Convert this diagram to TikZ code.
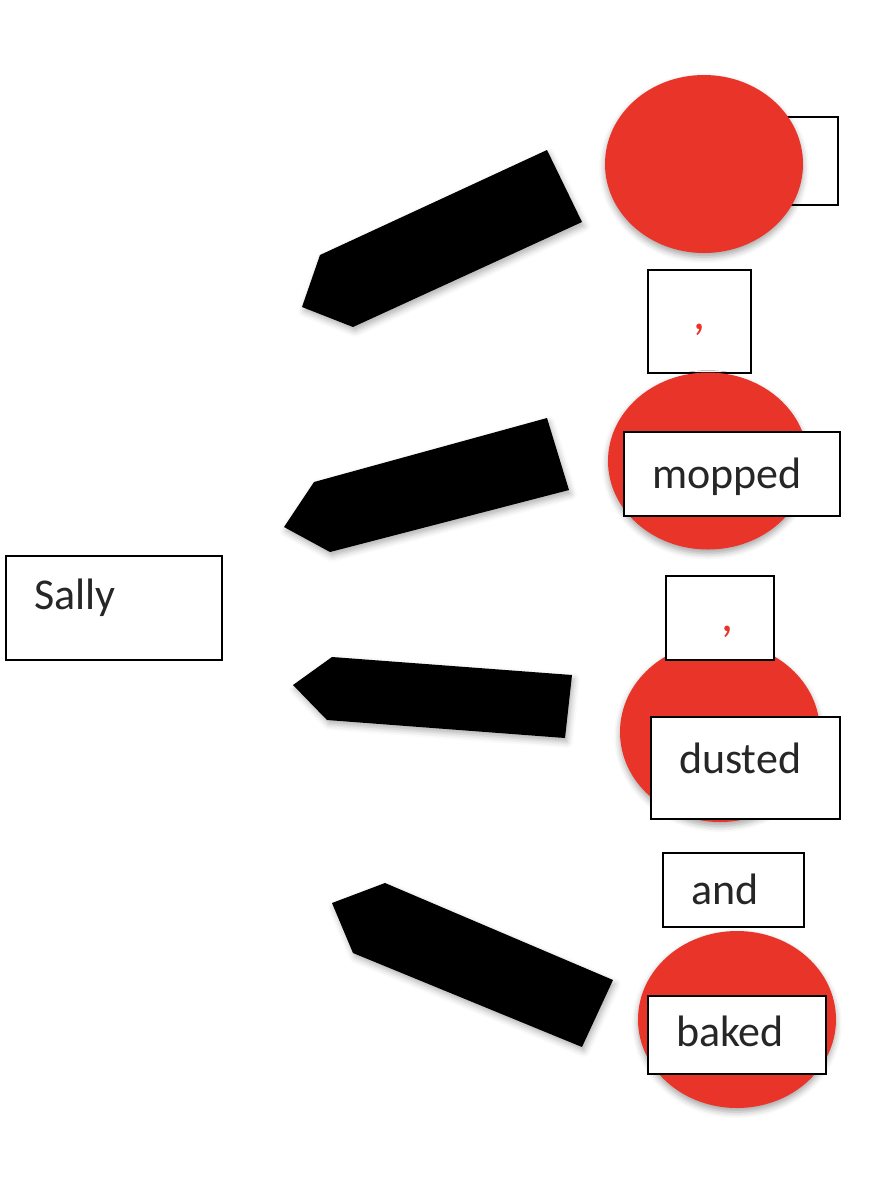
\documentclass[tikz,border=0pt]{standalone}
\usepackage{fontspec}
\setmainfont{Carlito}
\usetikzlibrary{shapes.geometric,shadows.blur}
\definecolor{blobred}{HTML}{E9342A}
\tikzset{
  wordbox/.style={draw, line width=1pt, rectangle, fill=white, align=left, anchor=north,
    inner xsep=14pt, inner ysep=0pt, text=black!85,
    font=\fontsize{22}{26}\selectfont},
  commabox/.style={draw, line width=1pt, rectangle, fill=white, anchor=north, inner sep=0pt,
    text=blobred, font=\fontsize{24}{28}\selectfont},
  blob/.style={ellipse, fill=blobred, inner sep=0pt,
    blur shadow={shadow xshift=0pt, shadow yshift=-2pt, shadow blur radius=3pt, shadow opacity=35}},
  blockarrow/.style={fill=black,
    blur shadow={shadow xshift=1pt, shadow yshift=-2pt, shadow blur radius=3pt, shadow opacity=30}}
}
\begin{document}
\begin{tikzpicture}[x=0.5pt, y=-0.5pt]
	\useasboundingbox (0,0) rectangle (870,1180);
	
	% Subject
	\node[wordbox, text width=80pt, text height=26.5pt, text depth=25.5pt] (sally) at (114,555) {Sally};
	
	% Block arrows
	\fill[blockarrow] (547,150) -- (582,222) -- (353,327) -- (302,307) -- (320,255) -- cycle;
	\fill[blockarrow] (547,418) -- (569,490) -- (330,552) -- (284,527) -- (314,482) -- cycle;
	\fill[blockarrow] (332,657) -- (572,675) -- (565,738) -- (327,720) -- (293,685) -- cycle;
	\fill[blockarrow] (385,883) -- (613,980) -- (582,1047) -- (353,953) -- (332,903) -- cycle;
	
	% First verb (box hidden behind the circle)
	\node[draw, line width=1pt, anchor=north, minimum width=59pt, minimum height=44pt] (topword) at (779,116) {};
	\node[blob, minimum width=99pt, minimum height=89pt] (blobA) at (704,164) {};
	\node[commabox, minimum width=51.5pt, text height=29.5pt, text depth=22pt] (commaA) at (699.5,269) {,};
	
	% Second verb
	\node[blob, minimum width=100pt, minimum height=88.5pt] (blobB) at (708,461) {};
	\node[wordbox, text width=80pt, text height=28pt, text depth=14pt] (mopped) at (732,431) {mopped};
	
	% Third verb
	\node[blob, minimum width=100pt, minimum height=90pt] (blobC) at (720,732) {};
	\node[commabox, minimum width=54pt, text height=27.5pt, text depth=14.5pt] (commaB) at (720,575) {\hspace{7pt},};
	\node[wordbox, text width=66.5pt, text height=28pt, text depth=23pt] (dusted) at (745.5,716) {dusted};
	
	% Conjunction and last verb
	\node[wordbox, text width=42.5pt, text height=25.5pt, text depth=11.5pt] (and) at (733.5,852) {and};
	\node[blob, minimum width=99pt, minimum height=88.5pt] (blobD) at (737,1019.5) {};
	\node[wordbox, text width=61pt, text height=25pt, text depth=14pt] (baked) at (737,995) {baked};
\end{tikzpicture}
\end{document}
